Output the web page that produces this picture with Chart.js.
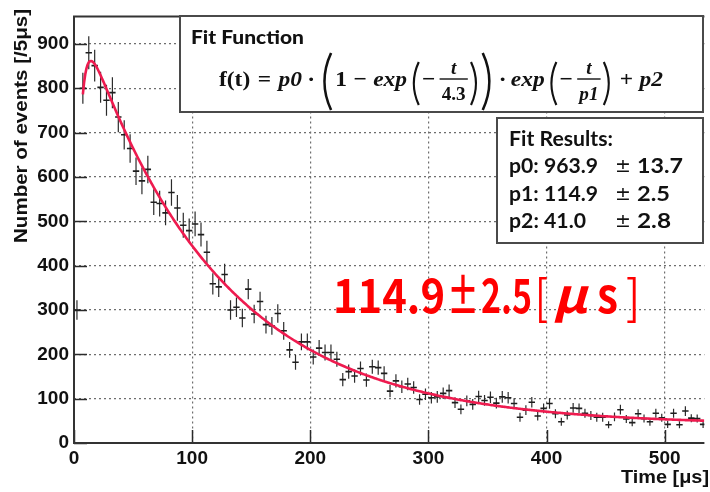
<!DOCTYPE html>
<html>
<head>
<meta charset="utf-8">
<script src="https://cdn.jsdelivr.net/npm/chart.js@4/dist/chart.umd.min.js"></script>
<style>
  html, body { margin: 0; padding: 0; background: #ffffff; }
  #wrap { width: 710px; height: 492px; }
</style>
</head>
<body>
<div id="wrap"><canvas id="c" width="710" height="492"></canvas></div>
<script>
// Histogram bin centres (5 us bins)
const binCenters = [
  2.5, 7.5, 12.5, 17.5, 22.5, 27.5, 32.5, 37.5, 42.5, 47.5,
  52.5, 57.5, 62.5, 67.5, 72.5, 77.5, 82.5, 87.5, 92.5, 97.5,
  102.5, 107.5, 112.5, 117.5, 122.5, 127.5, 132.5, 137.5, 142.5, 147.5,
  152.5, 157.5, 162.5, 167.5, 172.5, 177.5, 182.5, 187.5, 192.5, 197.5,
  202.5, 207.5, 212.5, 217.5, 222.5, 227.5, 232.5, 237.5, 242.5, 247.5,
  252.5, 257.5, 262.5, 267.5, 272.5, 277.5, 282.5, 287.5, 292.5, 297.5,
  302.5, 307.5, 312.5, 317.5, 322.5, 327.5, 332.5, 337.5, 342.5, 347.5,
  352.5, 357.5, 362.5, 367.5, 372.5, 377.5, 382.5, 387.5, 392.5, 397.5,
  402.5, 407.5, 412.5, 417.5, 422.5, 427.5, 432.5, 437.5, 442.5, 447.5,
  452.5, 457.5, 462.5, 467.5, 472.5, 477.5, 482.5, 487.5, 492.5, 497.5,
  502.5, 507.5, 512.5, 517.5, 522.5, 527.5, 532.5
];

// Events per bin
const counts = [
  300, 800, 880, 851, 802, 773, 790, 735, 695, 664,
  613, 591, 617, 543, 540, 519, 565, 530, 491, 479,
  494, 470, 430, 359, 352, 380, 300, 306, 282, 347,
  291, 319, 267, 264, 292, 253, 210, 182, 228, 228,
  194, 214, 204, 204, 189, 143, 161, 151, 168, 142,
  172, 170, 157, 117, 140, 127, 133, 125, 98, 110,
  102, 104, 112, 118, 91, 76, 95, 87, 105, 96,
  103, 90, 104, 102, 89, 58, 74, 92, 61, 78,
  89, 66, 48, 63, 79, 78, 67, 62, 58, 58,
  41, 59, 75, 54, 46, 66, 55, 48, 67, 57,
  42, 67, 41, 72, 56, 55, 42
];

// Half-length of each vertical error bar
const countErrors = [
  22, 35, 37, 36, 35, 35, 35, 34, 33, 32,
  31, 30, 31, 29, 29, 28, 30, 29, 28, 27,
  28, 27, 26, 24, 23, 24, 22, 22, 21, 23,
  21, 22, 20, 20, 21, 20, 18, 17, 19, 19,
  17, 18, 18, 18, 17, 15, 16, 15, 16, 15,
  16, 16, 16, 14, 15, 14, 14, 14, 12, 13,
  13, 13, 13, 14, 12, 11, 12, 12, 13, 12,
  13, 12, 13, 13, 12, 10, 11, 12, 10, 11,
  12, 10, 9, 10, 11, 11, 10, 10, 10, 10,
  8, 10, 11, 9, 8, 10, 9, 9, 10, 9,
  8, 10, 8, 11, 9, 9, 8
];

// Axis labels shown (minor ticks every 20)
const xMajorTicks = [0, 100, 200, 300, 400, 500];
const yMajorTicks = [0, 100, 200, 300, 400, 500, 600, 700, 800, 900];

// Fit: f(t) = p0 (1 - exp(-t/4.3)) exp(-t/p1) + p2
const fitNames = ['p0', 'p1', 'p2'];
const fitValues = [963.9, 114.9, 41.0];
const fitErrors = [13.7, 2.5, 2.8];
const fitRise = 4.3;
const fitRange = [7.5, 534];

const points = binCenters.map((t, i) => ({ x: t, y: counts[i] }));
const fitCurve = [];
for (let t = fitRange[0]; t <= fitRange[1]; t += 1) {
  fitCurve.push({
    x: t,
    y: fitValues[0] * (1 - Math.exp(-t / fitRise)) * Math.exp(-t / fitValues[1]) + fitValues[2]
  });
}

// ---------- drawing helpers ----------
function fitText(ctx, s, font, x0, x1, baseline) {
  ctx.save();
  ctx.font = font;
  ctx.textAlign = 'left';
  ctx.textBaseline = 'alphabetic';
  const w = ctx.measureText(s).width;
  ctx.translate(x0, baseline);
  ctx.scale((x1 - x0) / w, 1);
  ctx.fillText(s, 0, 0);
  ctx.restore();
}

function paren(ctx, x, top, bottom, w, open) {
  const mid = (top + bottom) / 2;
  ctx.beginPath();
  if (open) {
    ctx.moveTo(x + w, top);
    ctx.quadraticCurveTo(x - w * 0.55, mid, x + w, bottom);
  } else {
    ctx.moveTo(x, top);
    ctx.quadraticCurveTo(x + w * 1.55, mid, x, bottom);
  }
  ctx.stroke();
}

function drawFormula(ctx) {
  const upF = 'bold 22px "Liberation Serif"';
  const itF = 'bold italic 22px "Liberation Serif"';
  const smUp = 'bold 18px "Liberation Serif"';
  const smIt = 'bold italic 18px "Liberation Serif"';
  const base = 86;
  const items = [];
  const txt = (s, f) => items.push({ k: 't', s, f });
  const gap = (w) => items.push({ k: 'g', w });
  const par = (open, big) => items.push({ k: 'p', open, big, w: big ? 14 : 10 });
  const frac = (num, nf, den, df) => items.push({ k: 'f', num, nf, den, df });

  txt('f(t)', upF); gap(7); txt('=', upF); gap(7); txt('p0', itF); gap(5); txt('·', upF); gap(5);
  par(true, true); txt('1', upF); gap(6); txt('−', upF); gap(6); txt('exp', itF); gap(4);
  par(true, false); txt('−', upF); gap(3); frac('t', smIt, '4.3', smUp); gap(1);
  par(false, false); par(false, true); gap(3); txt('·', upF); gap(4); txt('exp', itF); gap(4);
  par(true, false); txt('−', upF); gap(3); frac('t', smIt, 'p1', smIt); gap(1);
  par(false, false); gap(6); txt('+', upF); gap(6); txt('p2', itF);

  let total = 0;
  items.forEach(it => {
    if (it.k === 't') { ctx.font = it.f; it.w = ctx.measureText(it.s).width; }
    if (it.k === 'f') {
      ctx.font = it.nf; const a = ctx.measureText(it.num).width;
      ctx.font = it.df; const b = ctx.measureText(it.den).width;
      it.w = Math.max(a, b) + 6;
    }
    total += it.w;
  });

  const x0 = 219, x1 = 663;
  ctx.save();
  ctx.translate(x0, 0);
  ctx.scale((x1 - x0) / total, 1);
  ctx.fillStyle = '#111';
  ctx.strokeStyle = '#111';
  ctx.textBaseline = 'alphabetic';
  ctx.textAlign = 'left';
  let x = 0;
  items.forEach(it => {
    if (it.k === 't') { ctx.font = it.f; ctx.fillText(it.s, x, base); }
    if (it.k === 'p') {
      ctx.lineWidth = it.big ? 2.4 : 2.0;
      if (it.big) paren(ctx, x + 2, 53, 110, it.w - 6, it.open);
      else paren(ctx, x + 1, 62, 105, it.w - 4, it.open);
    }
    if (it.k === 'f') {
      ctx.textAlign = 'center';
      ctx.font = it.nf; ctx.fillText(it.num, x + it.w / 2, 74);
      ctx.font = it.df; ctx.fillText(it.den, x + it.w / 2, 100);
      ctx.textAlign = 'left';
      ctx.lineWidth = 1.4;
      ctx.beginPath(); ctx.moveTo(x + 1, 79); ctx.lineTo(x + it.w - 1, 79); ctx.stroke();
    }
    x += it.w;
  });
  ctx.restore();
}

// ---------- plugins ----------
const errorBars = {
  id: 'errorBars',
  beforeDatasetsDraw(chart) {
    const { ctx, chartArea: a, scales: { x, y } } = chart;
    ctx.save();
    ctx.beginPath();
    ctx.rect(a.left, a.top, a.right - a.left, a.bottom - a.top);
    ctx.clip();
    ctx.strokeStyle = '#2b2b2b';
    ctx.lineWidth = 1.2;
    binCenters.forEach((t, i) => {
      const px = x.getPixelForValue(t);
      const y1 = y.getPixelForValue(counts[i] - countErrors[i]);
      const y2 = y.getPixelForValue(counts[i] + countErrors[i]);
      ctx.beginPath(); ctx.moveTo(px, y1); ctx.lineTo(px, y2); ctx.stroke();
    });
    ctx.restore();
  }
};

const axisFrame = {
  id: 'axisFrame',
  beforeDatasetsDraw(chart) {
    const { ctx, chartArea: a, scales: { x, y } } = chart;
    ctx.save();
    ctx.strokeStyle = '#2a2a2a';
    ctx.lineWidth = 1.5;
    x.ticks.forEach(t => {
      const px = Math.round(x.getPixelForValue(t.value)) + 0.5;
      const L = xMajorTicks.includes(t.value) ? 13 : 6;
      ctx.beginPath(); ctx.moveTo(px, a.bottom); ctx.lineTo(px, a.bottom - L); ctx.stroke();
    });
    y.ticks.forEach(t => {
      const py = Math.round(y.getPixelForValue(t.value)) + 0.5;
      const L = yMajorTicks.includes(t.value) ? 13 : 7;
      ctx.beginPath(); ctx.moveTo(a.left, py); ctx.lineTo(a.left + L, py); ctx.stroke();
    });
    ctx.lineWidth = 2;
    ctx.strokeStyle = '#333';
    ctx.beginPath();
    ctx.moveTo(a.right, a.top);
    ctx.lineTo(a.left, a.top);
    ctx.lineTo(a.left, a.bottom);
    ctx.lineTo(a.right, a.bottom);
    ctx.stroke();
    ctx.restore();
  }
};

const panels = {
  id: 'panels',
  afterDraw(chart) {
    const ctx = chart.ctx;
    ctx.save();

    // axis titles
    ctx.fillStyle = '#111';
    fitText(ctx, 'Time [μs]', 'bold 19px "Liberation Sans"', 621, 709, 483);
    ctx.save();
    ctx.translate(27, 243);
    ctx.rotate(-Math.PI / 2);
    fitText(ctx, 'Number of events [/5μs]', 'bold 18px "Liberation Sans"', 0, 234, 0);
    ctx.restore();

    // fit function box
    ctx.fillStyle = '#ffffff';
    ctx.fillRect(180, 16, 523, 96);
    ctx.strokeStyle = '#4a4a4a';
    ctx.lineWidth = 2;
    ctx.strokeRect(180, 16, 523, 96);
    ctx.fillStyle = '#111';
    fitText(ctx, 'Fit Function', '900 19px Lato', 191, 304, 44);
    drawFormula(ctx);

    // fit results box
    ctx.fillStyle = '#ffffff';
    ctx.fillRect(497, 118, 206, 125);
    ctx.strokeStyle = '#4a4a4a';
    ctx.lineWidth = 2;
    ctx.strokeRect(497, 118, 206, 125);
    ctx.fillStyle = '#111';
    const rf0 = 'bold 20px Lato';
    fitText(ctx, 'Fit Results:', rf0, 509, 613, 146);
    const valueEnds = [598, 598, 586];
    const errEnds = [683, 670, 671];
    fitNames.forEach((n, i) => {
      const yb = 173 + i * 27.5;
      fitText(ctx, n + ': ' + fitValues[i].toFixed(1), rf0, 509, valueEnds[i], yb);
      ctx.font = '19px "DejaVu Sans"';
      ctx.textAlign = 'left';
      ctx.fillText('±', 615, yb - 1);
      fitText(ctx, fitErrors[i].toFixed(1), rf0, 637, errEnds[i], yb);
    });

    // lifetime result
    ctx.fillStyle = '#ff0000';
    const rf = 'bold 47px "Noto Sans CJK JP"';
    fitText(ctx, fitValues[1].toFixed(1), rf, 333, 445, 313);
    fitText(ctx, '±', rf, 447, 479, 313);
    fitText(ctx, fitErrors[1].toFixed(1), rf, 481, 532, 313);
    fitText(ctx, '[', '48px "Noto Sans CJK JP"', 535, 548, 315);
    fitText(ctx, 'μ', 'bold italic 48px "Noto Sans CJK JP"', 553, 587, 313);
    fitText(ctx, 's', 'bold 48px "Noto Sans CJK JP"', 597, 618, 313);
    fitText(ctx, ']', '48px "Noto Sans CJK JP"', 626, 640, 315);

    ctx.restore();
  }
};

const majorGrid = (majors) => (c) =>
  (c.tick && majors.includes(c.tick.value) && c.tick.value !== 0) ? '#6e6e6e' : 'rgba(0,0,0,0)';

new Chart(document.getElementById('c'), {
  type: 'scatter',
  data: {
    datasets: [
      {
        type: 'line',
        label: 'fit',
        data: fitCurve,
        borderColor: '#ee1b4f',
        borderWidth: 2.6,
        pointRadius: 0,
        tension: 0,
        fill: false,
        order: 0
      },
      {
        type: 'scatter',
        label: 'data',
        data: points,
        pointStyle: 'line',
        pointRadius: 3.2,
        borderColor: '#1e1e1e',
        borderWidth: 1.6,
        order: 1
      }
    ]
  },
  options: {
    responsive: false,
    animation: false,
    devicePixelRatio: 1,
    layout: { padding: { left: 0, right: 0, top: 7, bottom: 0 } },
    plugins: { legend: { display: false }, tooltip: { enabled: false } },
    scales: {
      x: {
        type: 'linear',
        min: 0,
        max: 533.6,
        afterFit(s) { s.height = 49; },
        ticks: {
          stepSize: 20,
          autoSkip: false,
          maxRotation: 0,
          includeBounds: false,
          padding: 4,
          color: '#111',
          font: { family: '"Liberation Sans"', size: 19, weight: 'bold' },
          callback: (v) => xMajorTicks.includes(v) ? String(v) : null
        },
        grid: { drawTicks: false, color: majorGrid(xMajorTicks), lineWidth: 1.2 },
        border: { display: false, dash: [2, 3] }
      },
      y: {
        type: 'linear',
        min: 0,
        max: 962,
        afterFit(s) { s.width = 74; },
        ticks: {
          stepSize: 20,
          autoSkip: false,
          includeBounds: false,
          padding: 5,
          color: '#111',
          font: { family: '"Liberation Sans"', size: 19, weight: 'bold' },
          callback: (v) => yMajorTicks.includes(v) ? String(v) : null
        },
        grid: { drawTicks: false, color: majorGrid(yMajorTicks), lineWidth: 1.2 },
        border: { display: false, dash: [2, 3] }
      }
    }
  },
  plugins: [errorBars, axisFrame, panels]
});
</script>
</body>
</html>
